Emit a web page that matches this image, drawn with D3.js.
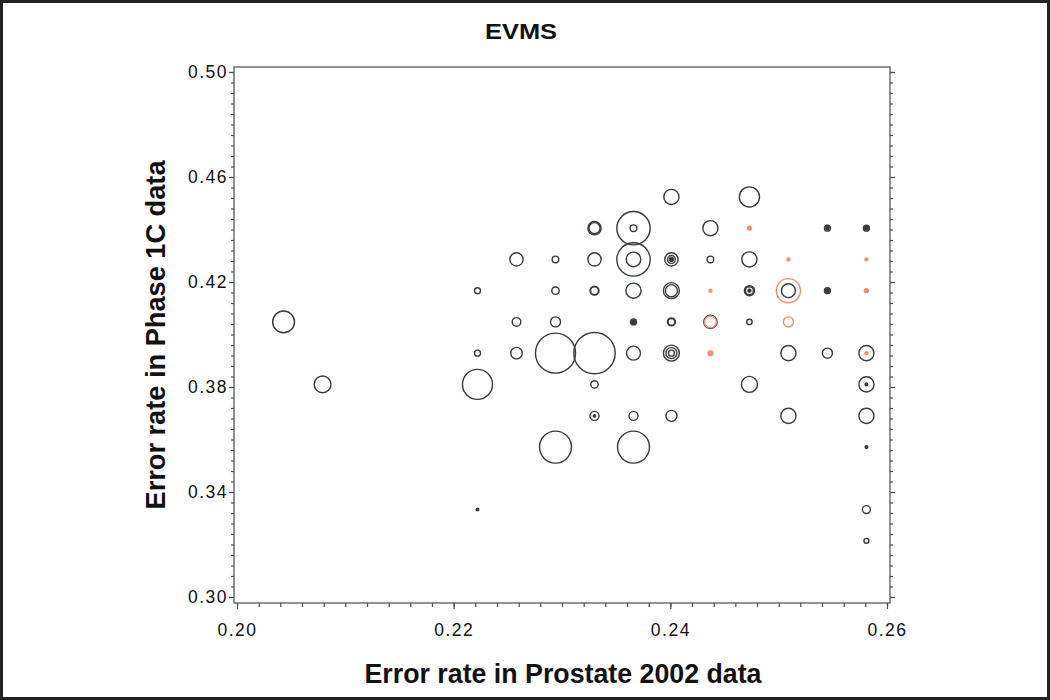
<!DOCTYPE html>
<html lang="en">
<head>
<meta charset="utf-8">
<style>
    body { margin: 0; background: #fff; }
    text { font-family: "Liberation Sans", Arial, Helvetica, sans-serif; fill: #111; }
    .tick-label { font-size: 17.5px; letter-spacing: 1.5px; }
    .axis-title { font-size: 27px; font-weight: bold; }
    .title { font-size: 22px; font-weight: bold; }
</style>
<script src="https://d3js.org/d3.v7.min.js"></script>
</head>
<body>
<svg width="1050" height="700"></svg>
<script>

    // bubble data (x = Prostate 2002 error rate, y = Phase 1C error rate)
    // size = bubble value, group: "a" = dark rings, "b" = orange rings
    var bubbleX = [
        0.2401, 0.2473,
        0.2330, 0.2330, 0.2366, 0.2366, 0.2437, 0.2473, 0.2545, 0.2545, 0.2581, 0.2581,
        0.2258, 0.2294, 0.2330, 0.2366, 0.2366, 0.2401, 0.2401, 0.2401, 0.2437, 0.2473, 0.2509, 0.2581,
        0.2222, 0.2294, 0.2330, 0.2330, 0.2366, 0.2401, 0.2401, 0.2437, 0.2473, 0.2473, 0.2473, 0.2509, 0.2509, 0.2545, 0.2545, 0.2581,
        0.2043, 0.2258, 0.2294, 0.2366, 0.2366, 0.2401, 0.2401, 0.2437, 0.2437, 0.2473, 0.2509,
        0.2222, 0.2258, 0.2294, 0.2330, 0.2366, 0.2401, 0.2401, 0.2401, 0.2437, 0.2509, 0.2545, 0.2581, 0.2581,
        0.2079, 0.2222, 0.2330, 0.2473, 0.2581, 0.2581,
        0.2330, 0.2330, 0.2366, 0.2401, 0.2509, 0.2581,
        0.2294, 0.2366, 0.2581,
        0.2222, 0.2581,
        0.2581
    ];
    var bubbleY = [
        0.4524, 0.4524,
        0.4405, 0.4405, 0.4405, 0.4405, 0.4405, 0.4405, 0.4405, 0.4405, 0.4405, 0.4405,
        0.4286, 0.4286, 0.4286, 0.4286, 0.4286, 0.4286, 0.4286, 0.4286, 0.4286, 0.4286, 0.4286, 0.4286,
        0.4167, 0.4167, 0.4167, 0.4167, 0.4167, 0.4167, 0.4167, 0.4167, 0.4167, 0.4167, 0.4167, 0.4167, 0.4167, 0.4167, 0.4167, 0.4167,
        0.4048, 0.4048, 0.4048, 0.4048, 0.4048, 0.4048, 0.4048, 0.4048, 0.4048, 0.4048, 0.4048,
        0.3929, 0.3929, 0.3929, 0.3929, 0.3929, 0.3929, 0.3929, 0.3929, 0.3929, 0.3929, 0.3929, 0.3929, 0.3929,
        0.3810, 0.3810, 0.3810, 0.3810, 0.3810, 0.3810,
        0.3690, 0.3690, 0.3690, 0.3690, 0.3690, 0.3690,
        0.3571, 0.3571, 0.3571,
        0.3333, 0.3333,
        0.3214
    ];
    var bubbleSize = [
        13, 23,
        10, 7, 63, 2.5, 13, 0.8, 2, 0.6, 2, 0.8,
        10, 2.5, 10, 63, 12, 10, 3.5, 0.9, 2.5, 13, 0.5, 0.5,
        2, 3.1, 4.6, 3.5, 13, 14.5, 8.2, 0.5, 5.7, 3.6, 0.5, 33, 11, 2, 0.8, 0.9,
        27, 4.2, 5.7, 2, 0.8, 3.6, 2.5, 10, 8, 1.65, 5.7,
        2, 7.4, 91, 97, 11, 14.5, 6.9, 2, 1.2, 13, 5.7, 13, 0.5,
        16, 51, 3.1, 14.5, 13, 0.4,
        4.6, 0.3, 4.6, 6.9, 13, 13,
        58, 58, 0.4,
        0.4, 3.6,
        1.4
    ];
    var bubbleGroup = [
        "a", "a",
        "a", "a", "a", "a", "a", "b", "a", "a", "a", "a",
        "a", "a", "a", "a", "a", "a", "a", "a", "a", "a", "b", "b",
        "a", "a", "a", "a", "a", "a", "a", "b", "a", "a", "a", "b", "a", "a", "a", "b",
        "a", "a", "a", "a", "a", "a", "a", "a", "b", "a", "b",
        "a", "a", "a", "a", "a", "a", "a", "a", "b", "a", "a", "a", "b",
        "a", "a", "a", "a", "a", "a",
        "a", "a", "a", "a", "a", "a",
        "a", "a", "a",
        "a", "a",
        "a"
    ];

    var xTicks = [0.20, 0.22, 0.24, 0.26];
    var yTicks = [0.30, 0.34, 0.38, 0.42, 0.46, 0.50];

    var svg = d3.select("svg");

    // outer border of the figure
    svg.append("rect")
        .attr("x", 1.5).attr("y", 1.5)
        .attr("width", 1047).attr("height", 697)
        .attr("fill", "#fff")
        .attr("stroke", "#222")
        .attr("stroke-width", 3);

    var frame = {left: 234, right: 890, top: 67, bottom: 603};

    var x = d3.scaleLinear().domain([0.20, 0.26]).range([237, 887]);
    var y = d3.scaleLinear().domain([0.30, 0.50]).range([597, 72]);
    var r = d3.scaleSqrt().domain([0, 100]).range([0, 21]);
    var color = d3.scaleOrdinal().domain(["a", "b"]).range(["#353b3e", "#f28f70"]);

    svg.append("rect")
        .attr("x", frame.left).attr("y", frame.top)
        .attr("width", frame.right - frame.left)
        .attr("height", frame.bottom - frame.top)
        .attr("fill", "none")
        .attr("stroke", "#4a4f52")
        .attr("stroke-width", 1.2);

    var xMinor = d3.range(0.20, 0.2601, 0.002);
    var yMinor = d3.range(0.30, 0.5001, 0.004);

    // bottom axis
    var gx = svg.append("g").attr("transform", "translate(0," + frame.bottom + ")");
    gx.call(d3.axisBottom(x).tickValues(xMinor).tickSize(4).tickFormat(""));
    gx.select(".domain").remove();
    var gx2 = svg.append("g").attr("transform", "translate(0," + frame.bottom + ")");
    gx2.call(d3.axisBottom(x).tickValues(xTicks).tickSize(6).tickPadding(14.5).tickFormat(d3.format(".2f")));
    gx2.select(".domain").remove();

    // left axis
    var gy = svg.append("g").attr("transform", "translate(" + frame.left + ",0)");
    gy.call(d3.axisLeft(y).tickValues(yMinor).tickSize(3).tickFormat(""));
    gy.select(".domain").remove();
    var gy2 = svg.append("g").attr("transform", "translate(" + frame.left + ",0)");
    gy2.call(d3.axisLeft(y).tickValues(yTicks).tickSize(5).tickPadding(1).tickFormat(d3.format(".2f")));
    gy2.select(".domain").remove();

    // right axis (ticks only)
    var gr = svg.append("g").attr("transform", "translate(" + frame.right + ",0)");
    gr.call(d3.axisRight(y).tickValues(yMinor).tickSize(3).tickFormat(""));
    gr.select(".domain").remove();
    var gr2 = svg.append("g").attr("transform", "translate(" + frame.right + ",0)");
    gr2.call(d3.axisRight(y).tickValues(yTicks).tickSize(5).tickFormat(""));
    gr2.select(".domain").remove();

    svg.selectAll(".tick line").attr("stroke", "#4a4f52").attr("stroke-width", 1.2);
    svg.selectAll(".tick text")
        .attr("class", "tick-label")
        .attr("font-family", null)
        .attr("font-size", null)
        .style("fill", "#111");

    // bubbles, biggest first so small rings stay on top
    var idx = d3.range(bubbleX.length);
    idx.sort(function(a, b) { return bubbleSize[b] - bubbleSize[a]; });

    svg.append("g").selectAll("circle")
        .data(idx)
        .enter().append("circle")
        .attr("cx", function(i) { return x(bubbleX[i]); })
        .attr("cy", function(i) { return y(bubbleY[i]); })
        .attr("r", function(i) { return r(bubbleSize[i]); })
        .attr("fill", function(i) { return bubbleSize[i] < 1.3 ? color(bubbleGroup[i]) : "none"; })
        .attr("stroke", function(i) { return color(bubbleGroup[i]); })
        .attr("stroke-width", 1.4);

    // titles
    svg.append("text")
        .attr("class", "title")
        .attr("x", 521).attr("y", 38.5)
        .attr("text-anchor", "middle")
        .attr("textLength", 72)
        .attr("lengthAdjust", "spacingAndGlyphs")
        .text("EVMS");

    svg.append("text")
        .attr("class", "axis-title")
        .attr("x", 563).attr("y", 683)
        .attr("text-anchor", "middle")
        .attr("textLength", 397)
        .attr("lengthAdjust", "spacingAndGlyphs")
        .text("Error  rate  in  Prostate  2002  data");

    svg.append("text")
        .attr("class", "axis-title")
        .attr("transform", "translate(165,335) rotate(-90)")
        .attr("text-anchor", "middle")
        .attr("textLength", 349)
        .attr("lengthAdjust", "spacingAndGlyphs")
        .text("Error  rate  in  Phase  1C  data");

</script>
</body>
</html>
